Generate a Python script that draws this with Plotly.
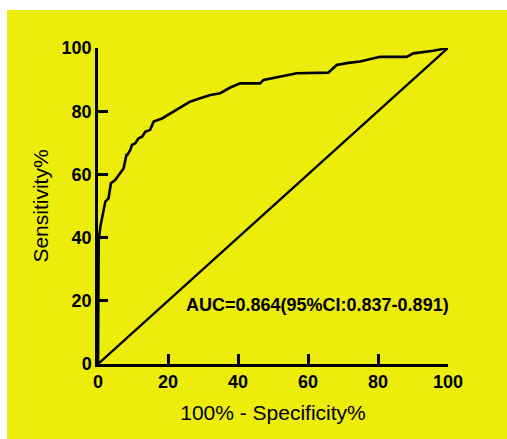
import plotly.graph_objects as go

# ROC curve (100% - Specificity%, Sensitivity%)
fpr = [0, 0, 0.2, 0.66, 1.4, 2.1, 3.0, 3.7, 4.9, 6.4, 6.8, 7.3, 8.1, 8.3, 9.2, 9.7, 10.6,
       11.6, 12.6, 13.5, 14.9, 15.9, 18.3, 20.6, 24.0, 26.3, 29.2, 32.1, 34.9, 37.8,
       40.6, 46.3, 47.3, 52.0, 56.8, 65.8, 68.2, 71.5, 74.9, 80.6, 88.2, 90.1, 95.8, 100]
tpr = [0, 25, 39.2, 43.4, 47.7, 51.4, 52.4, 57.2, 58.2, 60.3, 60.9, 61.9, 66.1, 66.1, 67.7,
       69.3, 69.8, 71.4, 71.9, 73.5, 74.1, 76.7, 77.7, 79.3, 81.4, 83.0, 84.1, 85.1, 85.7,
       87.5, 88.8, 88.8, 89.9, 90.9, 92.0, 92.2, 94.6, 95.3, 95.7, 97.2, 97.2, 98.3, 99.1, 100]
ref_x = [0, 100]
ref_y = [0, 100]
tick_vals = [0, 20, 40, 60, 80, 100]
auc_text = "AUC=0.864(95%CI:0.837-0.891)"

FONT = "Arial, Liberation Sans, sans-serif"
YELLOW = "#EDED0C"

fig = go.Figure()
fig.add_trace(go.Scatter(x=fpr, y=tpr, mode="lines",
                         line=dict(color="black", width=2.6), hoverinfo="skip"))
fig.add_trace(go.Scatter(x=ref_x, y=ref_y, mode="lines",
                         line=dict(color="black", width=2.4), hoverinfo="skip"))

axis_common = dict(
    range=[0, 100], tickvals=tick_vals, ticks="inside", ticklen=10, tickwidth=2.5,
    tickcolor="black", showline=True, linewidth=2.5, linecolor="black",
    showgrid=False, zeroline=False, fixedrange=True,
    tickfont=dict(family=FONT, size=18, color="black", weight="bold"),
)

fig.update_layout(
    width=500, height=429,
    margin=dict(l=91, r=59, t=38, b=75),
    paper_bgcolor=YELLOW, plot_bgcolor=YELLOW,
    showlegend=False,
    xaxis=dict(**axis_common,
               title=dict(text="100% - Specificity%", standoff=14,
                          font=dict(family=FONT, size=21, color="black"))),
    yaxis=dict(**axis_common,
               title=dict(text="Sensitivity%", standoff=8,
                          font=dict(family=FONT, size=21, color="black"))),
    annotations=[dict(x=62.7, y=18.7, xref="x", yref="y", text=auc_text,
                      showarrow=False,
                      font=dict(family=FONT, size=18, color="black", weight="bold"))],
)

fig.write_html("out.html",
               post_script="document.body.style.margin='10px 0 0 7px';"
                           "document.body.style.overflow='hidden';")
